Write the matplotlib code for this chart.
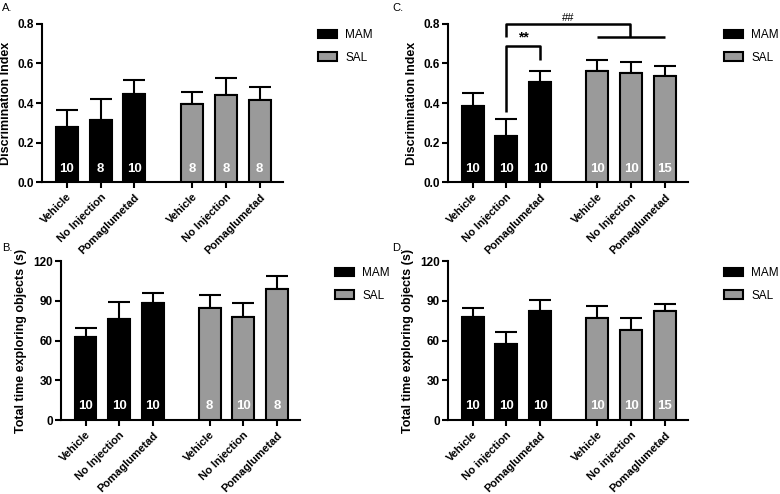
import matplotlib
matplotlib.use("Agg")
import matplotlib.pyplot as plt
from matplotlib.patches import Patch
import numpy as np

plt.rcParams['font.family'] = ['Liberation Sans', 'DejaVu Sans']

groups = ["MAM", "SAL"]
cats_abc = ["Vehicle", "No Injection", "Pomaglumetad"]
cats_d = ["Vehicle", "No injection", "Pomaglumetad"]

A_mam = [0.280, 0.315, 0.445]
A_mam_err = [0.085, 0.105, 0.071]
A_sal = [0.393, 0.442, 0.417]
A_sal_err = [0.063, 0.085, 0.066]
A_n_mam = ["10", "8", "10"]
A_n_sal = ["8", "8", "8"]

B_mam = [62.6, 76.5, 88.1]
B_mam_err = [7.1, 12.8, 7.5]
B_sal = [84.3, 77.5, 98.9]
B_sal_err = [10.0, 10.8, 10.0]
B_n_mam = ["10", "10", "10"]
B_n_sal = ["8", "10", "8"]

C_mam = [0.385, 0.233, 0.506]
C_mam_err = [0.067, 0.084, 0.054]
C_sal = [0.562, 0.550, 0.535]
C_sal_err = [0.057, 0.056, 0.052]
C_n_mam = ["10", "10", "10"]
C_n_sal = ["10", "10", "15"]

D_mam = [77.7, 57.1, 82.5]
D_mam_err = [6.6, 9.1, 8.3]
D_sal = [77.2, 67.9, 82.3]
D_sal_err = [9.1, 9.3, 5.2]
D_n_mam = ["10", "10", "10"]
D_n_sal = ["10", "10", "15"]

MAM_COLOR = "#000000"
SAL_COLOR = "#9a9a9a"

W, H = 780, 494
fig = plt.figure(figsize=(W / 100, H / 100), dpi=100)


def px_axes(left, top, right, bottom):
    return fig.add_axes([left / W, 1 - bottom / H, (right - left) / W, (bottom - top) / H])


pos_mam = np.array([0, 1, 2], dtype=float)
pos_sal = np.array([3.7, 4.7, 5.7])
bw = 0.65


def panel(ax, mam, mam_err, sal, sal_err, n_mam, n_sal, cats, ylim, yticks, yfmt, ylabel, ny, labelpad):
    ax.bar(pos_mam, mam, width=bw, color=MAM_COLOR, edgecolor="black", linewidth=1.5, zorder=3)
    ax.bar(pos_sal, sal, width=bw, color=SAL_COLOR, edgecolor="black", linewidth=1.5, zorder=3)
    for pos, vals, errs in [(pos_mam, mam, mam_err), (pos_sal, sal, sal_err)]:
        ax.errorbar(pos, vals, yerr=[np.zeros(len(vals)), errs], fmt="none", ecolor="black",
                    elinewidth=1.5, capsize=8, capthick=1.5, zorder=2)
    for pos, ns in [(pos_mam, n_mam), (pos_sal, n_sal)]:
        for x, t in zip(pos, ns):
            ax.text(x, ny, t, ha="center", va="center", color="white", fontsize=9.5,
                    fontweight="bold", zorder=4)
    ax.set_xlim(-0.73, 6.39)
    ax.set_ylim(*ylim)
    ax.set_yticks(yticks)
    ax.set_yticklabels([yfmt.format(v) for v in yticks], fontweight="bold", fontsize=8.5)
    ax.set_xticks(np.concatenate([pos_mam, pos_sal]))
    ax.set_xticklabels(cats + cats, rotation=45, ha="right", rotation_mode="anchor",
                       fontweight="bold", fontsize=8)
    ax.set_ylabel(ylabel, fontweight="bold", fontsize=9, labelpad=labelpad)
    for s in ["top", "right"]:
        ax.spines[s].set_visible(False)
    for s in ["left", "bottom"]:
        ax.spines[s].set_linewidth(1.5)
    ax.tick_params(axis="both", width=1.5, length=4, pad=2)
    ax.tick_params(axis="x", pad=3)


def legend_at(x, y):
    handles = [Patch(facecolor=MAM_COLOR, edgecolor="black", linewidth=1.5, label=groups[0]),
               Patch(facecolor=SAL_COLOR, edgecolor="black", linewidth=1.5, label=groups[1])]
    fig.legend(handles=handles, loc="upper left", bbox_to_anchor=(x / W, 1 - y / H),
               frameon=False, fontsize=8.5, handlelength=1.6, handleheight=0.7,
               handletextpad=0.7, labelspacing=0.9, borderpad=0, borderaxespad=0)


axA = px_axes(42, 24, 283, 182)
panel(axA, A_mam, A_mam_err, A_sal, A_sal_err, A_n_mam, A_n_sal, cats_abc,
      (0, 0.8), [0, 0.2, 0.4, 0.6, 0.8], "{:.1f}", "Discrimination Index", 0.068, 4)

axC = px_axes(448, 24, 688, 182)
panel(axC, C_mam, C_mam_err, C_sal, C_sal_err, C_n_mam, C_n_sal, cats_abc,
      (0, 0.8), [0, 0.2, 0.4, 0.6, 0.8], "{:.1f}", "Discrimination Index", 0.068, 4)

axB = px_axes(61, 261, 300, 420)
panel(axB, B_mam, B_mam_err, B_sal, B_sal_err, B_n_mam, B_n_sal, cats_abc,
      (0, 120), [0, 30, 60, 90, 120], "{:.0f}", "Total time exploring objects (s)", 10.5, 4)

axD = px_axes(448, 261, 688, 420)
panel(axD, D_mam, D_mam_err, D_sal, D_sal_err, D_n_mam, D_n_sal, cats_d,
      (0, 120), [0, 30, 60, 90, 120], "{:.0f}", "Total time exploring objects (s)", 10.5, 4)

# significance annotations in panel C
kw = dict(color="black", linewidth=1.8, clip_on=False, zorder=5, solid_capstyle="butt")
x_ni, x_pg = pos_mam[1], pos_mam[2]
axC.plot([x_ni, x_ni, x_pg, x_pg], [0.355, 0.69, 0.69, 0.618], **kw)
axC.text((x_ni + x_pg) / 2, 0.695, "**", ha="center", va="bottom", fontsize=10, fontweight="bold")
x_mid = pos_sal.mean() - 0.02
axC.plot([x_ni, x_ni, x_mid, x_mid], [0.735, 0.80, 0.80, 0.735], **kw)
axC.plot([pos_sal[0], pos_sal[2]], [0.735, 0.735], **kw)
axC.text((x_ni + x_mid) / 2, 0.803, "##", ha="center", va="bottom", fontsize=8)

legend_at(318, 29)
legend_at(724, 29)
legend_at(335, 267)
legend_at(724, 267)

for letter, x, y in [("A.", 2, 3), ("C.", 392, 3), ("B.", 2, 243), ("D.", 392, 243)]:
    fig.text(x / W, 1 - y / H, letter, ha="left", va="top", fontsize=8)

fig.savefig("out.png", dpi=100, facecolor="white")
